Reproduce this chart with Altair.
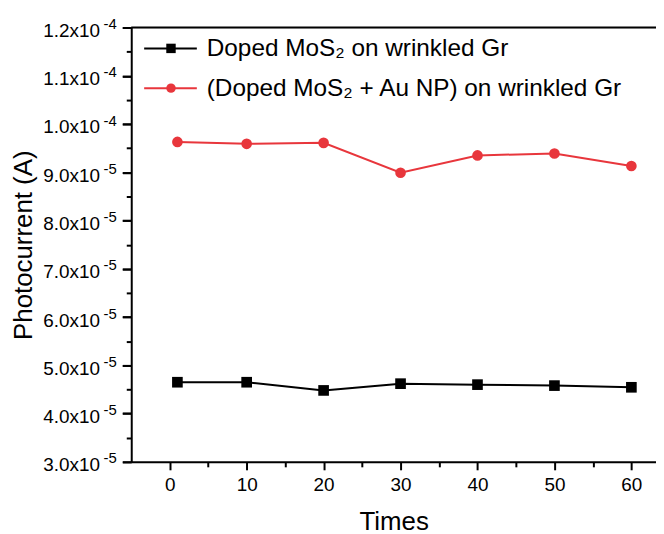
import altair as alt
import pandas as pd

times = [1, 10, 20, 30, 40, 50, 60]
doped = [4.65e-5, 4.65e-5, 4.48e-5, 4.62e-5, 4.60e-5, 4.58e-5, 4.545e-5]
doped_au = [9.63e-5, 9.59e-5, 9.61e-5, 8.99e-5, 9.35e-5, 9.39e-5, 9.13e-5]
series_names = ["Doped MoS₂ on wrinkled Gr", "(Doped MoS₂ + Au NP) on wrinkled Gr"]
series_colors = ["#000000", "#E8363C"]
series_shapes = ["square", "circle"]
y_major = [3e-5, 4e-5, 5e-5, 6e-5, 7e-5, 8e-5, 9e-5, 1e-4, 1.1e-4, 1.2e-4]
y_minor = [3.5e-5, 4.5e-5, 5.5e-5, 6.5e-5, 7.5e-5, 8.5e-5, 9.5e-5, 1.05e-4, 1.15e-4]
x_major = [0, 10, 20, 30, 40, 50, 60]
x_minor = [5, 15, 25, 35, 45, 55]

rows = []
for name, vals in zip(series_names, [doped, doped_au]):
    for t, v in zip(times, vals):
        rows.append({"series": name, "time": t, "value": v})
df = pd.DataFrame(rows)

W, H = 528, 437
FONT = "Liberation Sans"

x_scale = alt.Scale(domain=[-5, 63.2], nice=False, zero=False)
y_scale = alt.Scale(domain=[3e-5, 1.2e-4], nice=False, zero=False)
color_scale = alt.Scale(domain=series_names, range=series_colors)
shape_scale = alt.Scale(domain=series_names, range=series_shapes)

mant_expr = ("datum.value > 9.95e-5 ? format(datum.value*1e4, '.1f') + 'x10' : "
             "format(datum.value*1e5, '.1f') + 'x10'")
exp_expr = "datum.value > 9.95e-5 ? '-4' : '-5'"

x_axis = alt.Axis(values=x_major, title="Times", titleFontSize=26, titleFont=FONT,
                  titleFontWeight="normal", titleColor="#000", titlePadding=14,
                  labelFontSize=19, labelFont=FONT, labelColor="#000", labelPadding=6,
                  tickSize=8, tickWidth=2, tickColor="#000", domainWidth=2,
                  domainColor="#000", grid=False, orient="bottom")
y_axis = alt.Axis(values=y_major, title="Photocurrent (A)", titleFontSize=26, titleFont=FONT,
                  titleFontWeight="normal", titleColor="#000", titlePadding=6,
                  labelFontSize=19, labelFont=FONT, labelColor="#000", labelPadding=23,
                  labelExpr=mant_expr, labelOffset=3, tickSize=9, tickWidth=2, tickColor="#000",
                  domainWidth=2, domainColor="#000", grid=False, orient="left")

base = alt.Chart(df)

lines = base.mark_line(strokeWidth=2).encode(
    x=alt.X("time:Q", scale=x_scale, axis=x_axis),
    y=alt.Y("value:Q", scale=y_scale, axis=y_axis),
    color=alt.Color("series:N", scale=color_scale, legend=None),
    detail="series:N",
)
points = base.mark_point(filled=True, opacity=1, size=115).encode(
    x=alt.X("time:Q", scale=x_scale, axis=None),
    y=alt.Y("value:Q", scale=y_scale, axis=None),
    color=alt.Color("series:N", scale=color_scale, legend=None),
    shape=alt.Shape("series:N", scale=shape_scale, legend=None),
)
minor = base.mark_point(opacity=0).encode(
    x=alt.X("time:Q", scale=x_scale,
            axis=alt.Axis(values=x_minor, labels=False, title=None, tickSize=5, tickWidth=2,
                          tickColor="#000", domain=False, grid=False, orient="bottom")),
    y=alt.Y("value:Q", scale=y_scale,
            axis=alt.Axis(values=y_minor, labels=False, title=None, tickSize=5, tickWidth=2,
                          tickColor="#000", domain=False, grid=False, orient="left")),
)
expo = base.mark_point(opacity=0).encode(
    x=alt.X("time:Q", scale=x_scale, axis=None),
    y=alt.Y("value:Q", scale=y_scale,
            axis=alt.Axis(values=y_major, labelExpr=exp_expr, title=None, tickSize=9,
                          tickWidth=2, tickColor="#000", labelFontSize=15, labelFont=FONT,
                          labelColor="#000", labelPadding=6, labelOffset=-4, domain=False,
                          grid=False, orient="left")),
)

top_line = alt.Chart(pd.DataFrame({"a": [0]})).mark_rule(color="#000", strokeWidth=2).encode(
    x=alt.value(0), x2=alt.value(W), y=alt.value(0)
)

leg_y = [21, 61]
legend_layers = []
for i, name in enumerate(series_names):
    c = alt.Chart(pd.DataFrame({"series": [name]}))
    legend_layers.append(c.mark_rule(strokeWidth=2, color=series_colors[i]).encode(
        x=alt.value(13), x2=alt.value(66), y=alt.value(leg_y[i])))
    legend_layers.append(c.mark_point(filled=True, opacity=1, size=90,
                                      shape=series_shapes[i], color=series_colors[i]).encode(
        x=alt.value(40), y=alt.value(leg_y[i])))
    legend_layers.append(c.mark_text(align="left", baseline="middle", fontSize=24.5, font=FONT,
                                     color="#000").encode(
        x=alt.value(76), y=alt.value(leg_y[i] + 1), text="series:N"))

chart = alt.layer(lines, minor, expo, points, top_line, *legend_layers).resolve_axis(
    x="independent", y="independent"
).properties(
    width=W, height=H,
    autosize=alt.AutoSizeParams(type="none"),
    padding={"left": 124, "top": 18, "right": 0, "bottom": 80},
).configure_view(stroke=None).configure(background="white")

chart.save("out.html", embed_options={"renderer": "svg", "actions": False})
